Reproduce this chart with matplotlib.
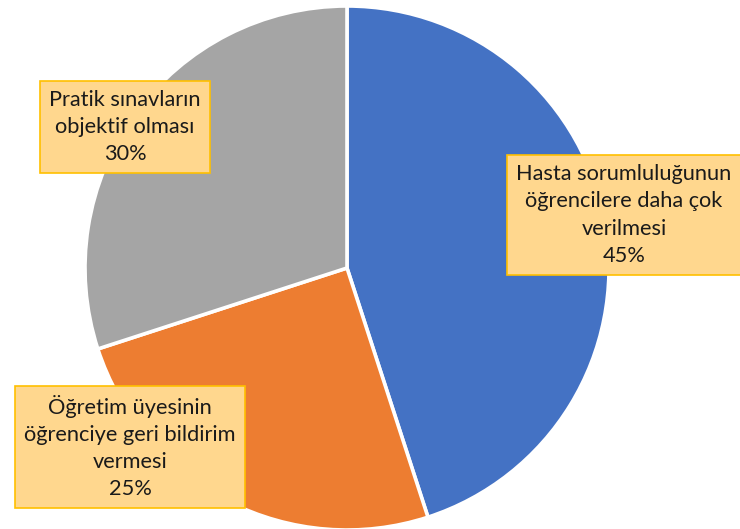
import matplotlib
matplotlib.use("Agg")
import matplotlib.pyplot as plt

labels = ["Hasta sorumluluğunun\nöğrencilere daha çok\nverilmesi",
          "Öğretim üyesinin\nöğrenciye geri bildirim\nvermesi",
          "Pratik sınavların\nobjektif olması"]
values = [45, 25, 30]
colors = ["#4472C4", "#ED7D31", "#A5A5A5"]

W, H = 740, 529
fig = plt.figure(figsize=(W / 100, H / 100), dpi=100)
ax = fig.add_axes([0, 0, 1, 1])

cx, cy, r = 347, H - 268, 262
ax.pie(values, colors=colors, startangle=90, counterclock=False,
       center=(cx, cy), radius=r,
       wedgeprops=dict(edgecolor="white", linewidth=2.6))
ax.set_xlim(0, W)
ax.set_ylim(0, H)
ax.set_aspect("equal")
ax.axis("off")

# label boxes, centred in pixel coordinates
label_pos = [(624, H - 215), (130, H - 447), (125, H - 127)]
box = dict(boxstyle="square,pad=0.42", facecolor="#FFD78E", edgecolor="#FFC000", linewidth=1.2)
for lab, v, (x, y) in zip(labels, values, label_pos):
    ax.text(x, y, f"{lab}\n{v}%", ha="center", va="center", fontsize=15.7,
            family=["Lato", "DejaVu Sans"], linespacing=1.45, color="#1a1a1a", bbox=box)

fig.savefig("out.png", dpi=100)
